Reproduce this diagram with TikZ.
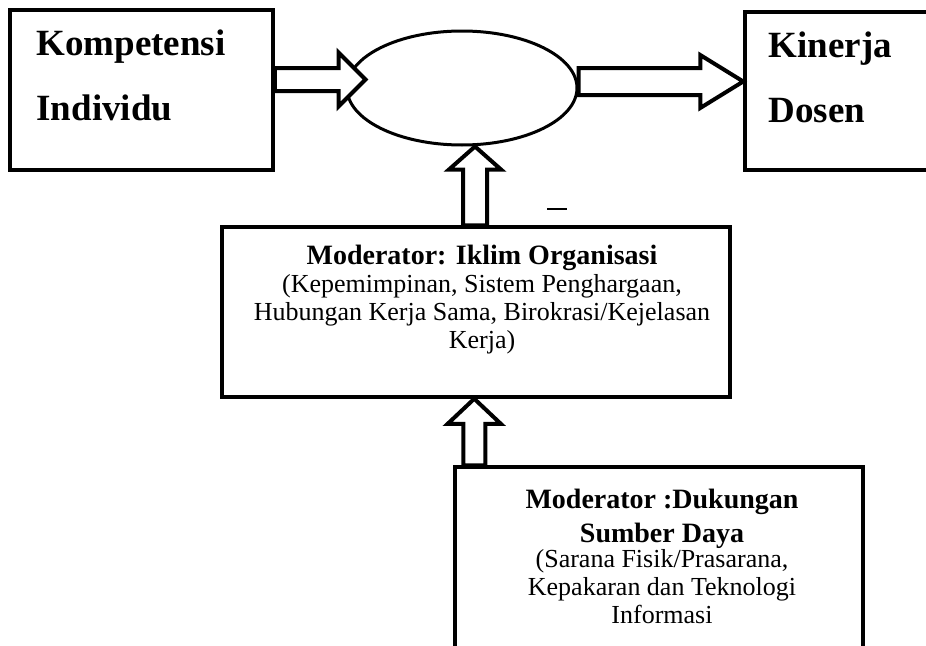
\documentclass[tikz,border=0pt]{standalone}
\usepackage{fontspec}
\setmainfont{Liberation Serif}
\usetikzlibrary{calc,shapes.geometric}
\tikzset{
  box/.style={draw, line width=3.5pt, inner sep=0pt},
  blockline/.style={draw, line width=4pt, fill=white, line join=miter},
  bigbold/.style={font=\bfseries\fontsize{37}{65}\selectfont, align=left, anchor=base west},
  boxtext/.style={font=\fontsize{26}{28}\selectfont, align=center, anchor=base},
}
% hollow block arrows: from, to, shaft half width, head half width, head length
\newcommand{\blockright}[5]{%
  \draw[blockline] let \p1=(#1), \p2=(#2) in
    (\x1,\y1+#3) -- (\x2-#5,\y1+#3) -- (\x2-#5,\y1+#4) -- (\x2,\y1)
    -- (\x2-#5,\y1-#4) -- (\x2-#5,\y1-#3) -- (\x1,\y1-#3) -- cycle;}
\newcommand{\blockup}[5]{%
  \draw[blockline] let \p1=(#1), \p2=(#2) in
    (\x1-#3,\y1) -- (\x1-#3,\y2-#5) -- (\x1-#4,\y2-#5) -- (\x1,\y2)
    -- (\x1+#4,\y2-#5) -- (\x1+#3,\y2-#5) -- (\x1+#3,\y1) -- cycle;}
\newcommand{\headbold}[1]{{\bfseries\fontsize{28}{28}\selectfont #1}}
\begin{document}
\begin{tikzpicture}[x=1pt,y=-1pt]
  \useasboundingbox (0,0) rectangle (926,645);
  \clip (0,0) rectangle (926,645);
  % boxes
  \node[box, minimum width=263pt, minimum height=160pt] (komp) at (141.5,90) {};
  \node[box, minimum width=195pt, minimum height=158pt] (kin) at (842.5,91) {};
  \node[draw, ellipse, line width=3pt, minimum width=230pt, minimum height=114pt, inner sep=0pt] (mid) at (462,88) {};
  \node[box, minimum width=508pt, minimum height=170pt] (iklim) at (476,312) {};
  \node[box, minimum width=408pt, minimum height=213pt] (sumber) at (659,573.5) {};
  % texts (base = last line)
  \node[bigbold] (kompText) at (33,120) {Kompetensi\\Individu};
  \node[bigbold] (kinText) at (765,122) {Kinerja\\Dosen};
  \node[boxtext] (iklimText) at (482,348) {\headbold{Moderator: Iklim Organisasi}\\(Kepemimpinan, Sistem Penghargaan,\\Hubungan Kerja Sama, Birokrasi/Kejelasan\\Kerja)};
  \node[boxtext] (sumberText) at (662,623) {\headbold{Moderator :Dukungan}\\[6pt]\headbold{Sumber Daya}\\[-3pt](Sarana Fisik/Prasarana,\\Kepakaran dan Teknologi\\Informasi};
  % arrows
  \blockright{[yshift=10.5pt]komp.east}{[xshift=20pt]mid.west}{11.5pt}{27pt}{27pt}
  \blockright{[yshift=6.5pt]mid.east}{kin.west}{13.5pt}{26.5pt}{43pt}
  \blockup{[xshift=-1pt]iklim.north}{mid.south}{12pt}{26pt}{23pt}
  \blockup{[xshift=21pt]sumber.north west}{iklim.south}{11pt}{26.5pt}{25pt}
  \draw[line width=2pt] (547,209) -- (567,209);
\end{tikzpicture}
\end{document}
